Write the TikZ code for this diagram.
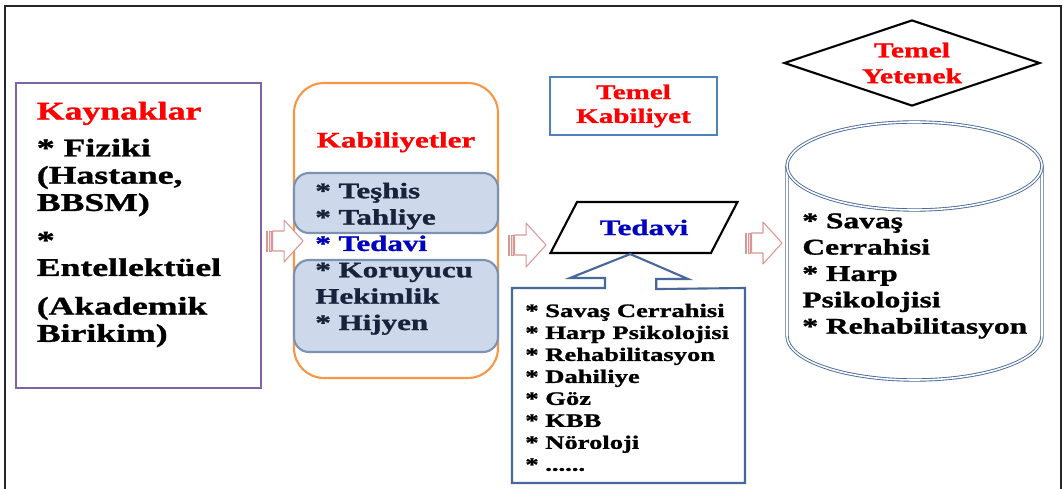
\documentclass[tikz,border=0pt]{standalone}
\usepackage{fontspec}
\setmainfont{Liberation Serif}[FakeStretch=1.4,BoldFeatures={FakeBold=1.2}]
\usetikzlibrary{shapes.geometric,positioning}
\definecolor{mor}{HTML}{8064A2}
\definecolor{turuncu}{HTML}{F79646}
\definecolor{dolgu}{HTML}{CDD9EA}
\definecolor{kenar}{HTML}{7C92B2}
\definecolor{cizgi}{HTML}{4F81BD}
\definecolor{koyumavi}{HTML}{46689A}
\definecolor{pembe}{HTML}{D99694}
\definecolor{acikpembe}{HTML}{F2DCDB}
\definecolor{lacivert}{HTML}{0000C0}
\definecolor{kirmizi}{HTML}{FF0000}
\definecolor{koyu}{HTML}{17223B}
\begin{document}
\begin{tikzpicture}[blok/.style={draw=pembe,fill=white,line width=0.6pt,line join=round},
serit/.style={draw=pembe,fill=acikpembe,line width=0.4pt},
yazi/.style={anchor=north west,inner sep=0pt,align=left}]
\useasboundingbox (0,0) rectangle (21.26,9.78);
\draw[line width=1.4pt,black!85] (0.1,0) -- (0.1,9.66) -- (21.22,9.66) -- (21.22,0);
% kaynaklar
\node[draw=mor,line width=1.2pt,minimum width=4.9cm,minimum height=6.1cm] (kaynak) at (2.77,5.07) {};
\node[yazi,font=\fontsize{14.5}{15.5}\selectfont\bfseries] (kaynakyazi) at (0.73,7.75) {\textcolor{kirmizi}{Kaynaklar}\\[5.5pt] * Fiziki\\ (Hastane,\\ BBSM)\\[6pt] *\\ Entellektüel\\[6.5pt] (Akademik\\ Birikim)};
% kabiliyetler
\node[draw=turuncu,line width=1.2pt,rounded corners=0.6cm,minimum width=4.08cm,minimum height=5.9cm] (kabil) at (7.92,5.17) {};
\node[draw=kenar,fill=dolgu,line width=1.2pt,rounded corners=0.3cm,minimum width=4.08cm,minimum height=1.2cm] (ustkutu) at (7.92,5.72) {};
\node[draw=kenar,fill=dolgu,line width=1.2pt,rounded corners=0.3cm,minimum width=4.08cm,minimum height=1.84cm] (altkutu) at (7.92,3.66) {};
\node[anchor=base,inner sep=0pt,text=kirmizi,font=\fontsize{12.6}{15}\selectfont\bfseries] (kabilbaslik) at (7.92,6.83) {Kabiliyetler};
\node[yazi,text=koyu,font=\fontsize{12.6}{15}\selectfont\bfseries] (kabilyazi) at (6.3,6.13) {* Teşhis\\ * Tahliye\\ \textcolor{lacivert}{* Tedavi}\\ * Koruyucu\\ Hekimlik\\ * Hijyen};
% temel kabiliyet
\node[draw=cizgi,line width=1.2pt,minimum width=3.34cm,minimum height=1.16cm,align=center,text=kirmizi,font=\fontsize{11.8}{13.6}\selectfont\bfseries] (temelkab) at (12.67,7.66) {Temel\\Kabiliyet};
\node[trapezium,trapezium left angle=54,trapezium right angle=126,trapezium stretches=true,draw,line width=1.2pt,minimum width=3.76cm,minimum height=1.02cm,text=lacivert,font=\fontsize{12.6}{15}\selectfont\bfseries] (tedavi) at (12.88,5.23) {Tedavi};
\draw[draw=koyumavi,fill=white,line width=1.2pt] (tedavi.bottom side) -- ++(1.16,-0.5) -- ++(-0.64,0) -- ++(0,-0.2) -- (14.9,4.02) -- (14.9,0.12) -- (10.24,0.12) -- (10.24,4.02) -- (12.1,4.02) -- ++(0,0.2) -- ++(-0.7,0) -- cycle;
\node[yazi,font=\fontsize{10.8}{12.5}\selectfont\bfseries] (liste) at (10.5,3.71) {* Savaş Cerrahisi\\ * Harp Psikolojisi\\ * Rehabilitasyon\\ * Dahiliye\\ * Göz\\ * KBB\\ * Nöroloji\\ * ......};
% temel yetenek
\node[diamond,draw,line width=1.2pt,minimum width=5.12cm,minimum height=1.72cm,aspect=2.98,inner sep=0pt,align=center,text=kirmizi,font=\fontsize{12}{14.7}\selectfont\bfseries] (yetenek) at (18.24,8.52) {Temel\\Yetenek};
\draw[draw=koyumavi,double=white,double distance=0.9pt,line width=0.5pt,fill=white] (15.74,6.46) -- (15.74,3.06) arc[start angle=180,end angle=360,x radius=2.55cm,y radius=0.88cm] -- (20.84,6.46) arc[start angle=0,end angle=180,x radius=2.55cm,y radius=0.88cm] -- cycle;
\draw[draw=koyumavi,double=white,double distance=0.9pt,line width=0.5pt] (15.74,6.46) arc[start angle=180,end angle=360,x radius=2.55cm,y radius=0.88cm];
\node[yazi,font=\fontsize{12.8}{15}\selectfont\bfseries] (silindir) at (16.04,5.52) {* Savaş\\ Cerrahisi\\ * Harp\\ Psikolojisi\\ * Rehabilitasyon};
% oklar
\draw[serit] (kaynak.east) ++(0.08,-0.31) rectangle ++(0.035,0.4) ++(0.035,-0.4) rectangle ++(0.03,0.4);
\draw[blok] (kaynak.east) ++(0.21,0.09) -- ++(0.23,0) -- ++(0,0.22) -- ++(0.38,-0.42) -- ++(-0.38,-0.42) -- ++(0,0.22) -- ++(-0.23,0) -- cycle;
\draw[serit] (kabil.east) ++(0.18,-0.49) rectangle ++(0.035,0.4) ++(0.035,-0.4) rectangle ++(0.03,0.4);
\draw[blok] (kabil.east) ++(0.31,-0.09) -- ++(0.23,0) -- ++(0,0.24) -- ++(0.4,-0.44) -- ++(-0.4,-0.44) -- ++(0,0.24) -- ++(-0.23,0) -- cycle;
\draw[serit] (silindir.north west) ++(-1.14,-0.8) rectangle ++(0.035,0.4) ++(0.035,-0.4) rectangle ++(0.03,0.4);
\draw[blok] (silindir.north west) ++(-1.01,-0.4) -- ++(0.23,0) -- ++(0,0.22) -- ++(0.38,-0.42) -- ++(-0.38,-0.42) -- ++(0,0.22) -- ++(-0.23,0) -- cycle;
\end{tikzpicture}
\end{document}
